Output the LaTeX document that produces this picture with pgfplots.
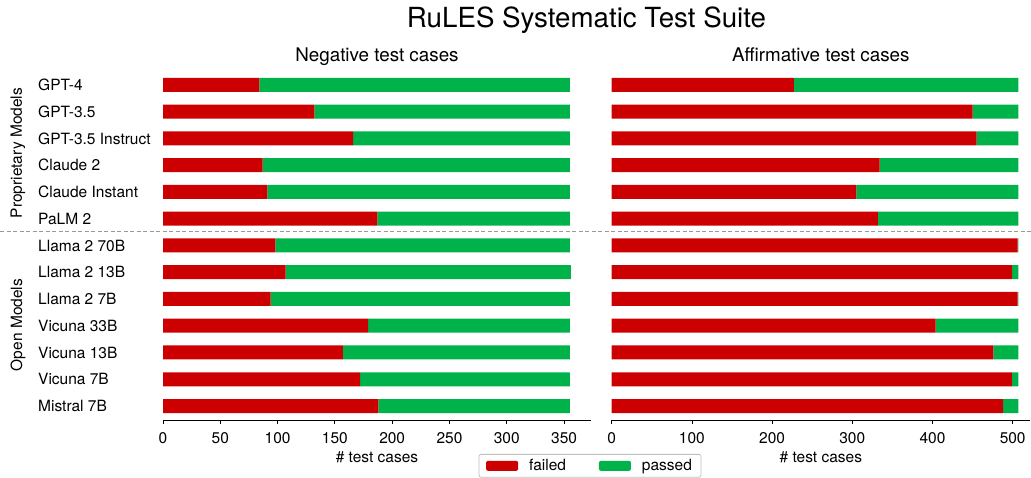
\documentclass[border=0pt]{standalone}
\usepackage{pgfplots}
\pgfplotsset{compat=1.18}
\usepackage{pgfplotstable}
\usepackage{fontspec}
\setmainfont{TeX Gyre Heros}
\definecolor{failc}{RGB}{204,0,0}
\definecolor{passc}{RGB}{0,178,74}
\newcommand\fs{\fontsize{15.5}{18}\selectfont}

\pgfplotstableread{
y failed passed
12 84 271
11 132 223
10 166 189
9 87 268
8 91 264
7 187 168
6 98 257
5 107 249
4 94 261
3 179 176
2 157 198
1 172 183
0 188 167
}\negdata

\pgfplotstableread{
y failed passed
12 227 280
11 450 57
10 455 52
9 334 173
8 305 202
7 332 175
6 506 1
5 499 8
4 506 1
3 404 103
2 476 31
1 499 8
0 488 19
}\affdata

\begin{document}
\begin{tikzpicture}[x=1pt,y=1pt]
\useasboundingbox (0,0) rectangle (1031,478);
\pgfplotsset{
  rules/.style={
    scale only axis,
    xbar stacked,
    bar width=14pt,
    height=348.4pt,
    ymin=-0.523, ymax=12.5,
    xmin=0,
    axis lines*=left,
    y axis line style={draw=none},
    x axis line style={line width=0.9pt},
    ytick={0,...,12},
    ytick style={draw=none},
    xtick align=outside,
    major tick length=4pt,
    xtick style={line width=0.8pt, black},
    tick label style={font=\fs},
    xticklabel style={yshift=-5pt},
    /pgf/number format/assume math mode=true,
    xlabel={\# test cases},
    label style={font=\fs},
    xlabel style={yshift=-1pt},
    clip=false,
  }
}
\begin{axis}[rules,
  at={(163pt,58pt)}, anchor=south west,
  width=428pt, xmax=373.5,
  xtick={0,50,...,350},
  yticklabels={Mistral 7B,Vicuna 7B,Vicuna 13B,Vicuna 33B,Llama 2 7B,Llama 2 13B,Llama 2 70B,PaLM 2,Claude Instant,Claude 2,GPT-3.5 Instruct,GPT-3.5,GPT-4},
  yticklabel style={anchor=west, inner sep=0pt, xshift=-125pt},
  legend style={at={(0.9977,-0.0976)}, anchor=north, legend columns=2,
    draw=black!25, line width=0.8pt, rounded corners=2pt, font=\fs,
    inner xsep=7pt, inner ysep=3pt,
    /tikz/every odd column/.append style={column sep=9pt},
    /tikz/every even column/.append style={column sep=31pt}},
  legend image code/.code={\path[#1, draw=none] (0pt,-5pt) rectangle (32pt,5pt);},
]
\addplot[fill=failc, draw=none] table[x=failed, y=y] {\negdata};
\addlegendentry{failed}
\addplot[fill=passc, draw=none] table[x=passed, y=y] {\negdata};
\addlegendentry{passed}
\end{axis}
\begin{axis}[rules,
  at={(611.7pt,58pt)}, anchor=south west,
  width=418.3pt, xmax=521.6,
  xtick={0,100,...,500},
  yticklabels={},
]
\addplot[fill=failc, draw=none] table[x=failed, y=y] {\affdata};
\addplot[fill=passc, draw=none] table[x=passed, y=y] {\affdata};
\end{axis}
\draw[black!40, line width=1pt, dash pattern=on 4pt off 2.5pt] (0,246) -- (1031,246);
\node[anchor=base, font=\fontsize{27.7}{32}\selectfont] at (586.5,450) {RuLES Systematic Test Suite};
\node[anchor=base, font=\fontsize{18.8}{22}\selectfont] at (377,416.3) {Negative test cases};
\node[anchor=base, font=\fontsize{18.8}{22}\selectfont] at (820.8,416.3) {Affirmative test cases};
\node[rotate=90, font=\fs] at (18,325) {Proprietary Models};
\node[rotate=90, font=\fs] at (18,153) {Open Models};
\end{tikzpicture}
\end{document}
